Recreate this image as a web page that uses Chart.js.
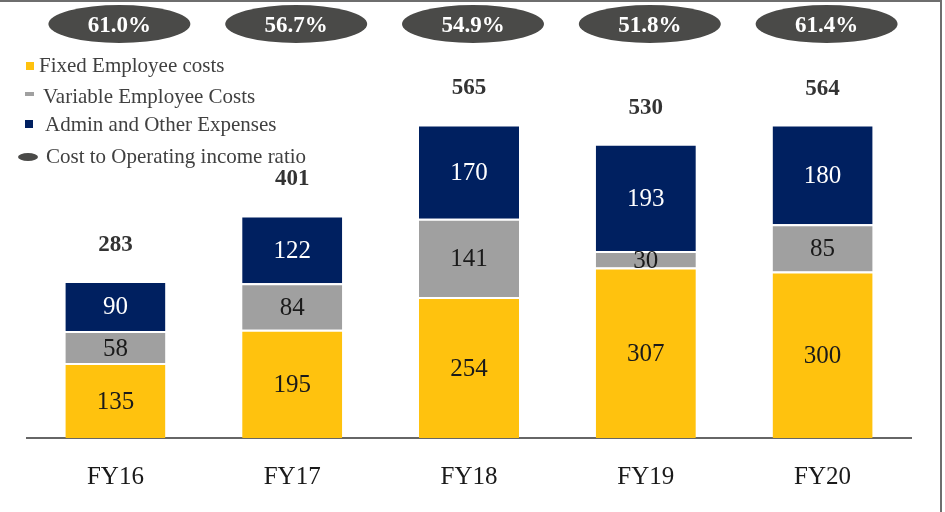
<!DOCTYPE html>
<html>
<head>
<meta charset="utf-8">
<script src="https://cdn.jsdelivr.net/npm/chart.js@4.4.1/dist/chart.umd.min.js"></script>
<style>
  body { margin: 0; background: #fff; }
  #wrap { width: 945px; height: 512px; position: relative; }
</style>
</head>
<body>
<div id="wrap"><canvas id="costChart" width="945" height="512"></canvas></div>
<script>
const years = ['FY16', 'FY17', 'FY18', 'FY19', 'FY20'];
const fixedCosts = [135, 195, 254, 307, 300];
const variableCosts = [58, 84, 141, 30, 85];
const adminCosts = [90, 122, 170, 193, 180];
const totals = [283, 401, 565, 530, 564];
const costRatio = ['61.0%', '56.7%', '54.9%', '51.8%', '61.4%'];

const serif = '"Liberation Serif", "DejaVu Serif", serif';

// valori dentro i segmenti + totali sopra le barre + ellissi del rapporto
const labelsPlugin = {
  id: 'labels',
  afterDatasetsDraw(chart) {
    const ctx = chart.ctx;
    const xs = chart.scales.x, ys = chart.scales.y;
    ctx.save();
    ctx.textAlign = 'center';
    ctx.textBaseline = 'middle';
    chart.data.datasets.forEach((ds, di) => {
      const meta = chart.getDatasetMeta(di);
      meta.data.forEach((bar, i) => {
        ctx.font = '25px ' + serif;
        ctx.fillStyle = di === 2 ? '#ffffff' : '#1a1a1a';
        ctx.fillText(ds.data[i], bar.x, (bar.y + bar.base) / 2 + 2);
      });
    });
    totals.forEach((t, i) => {
      ctx.font = 'bold 23px ' + serif;
      ctx.fillStyle = '#333333';
      ctx.fillText(t, xs.getPixelForValue(i), ys.getPixelForValue(t) - 36);
    });
    costRatio.forEach((r, i) => {
      const cx = xs.getPixelForValue(i) + 4;
      ctx.fillStyle = '#4a4a48';
      ctx.beginPath();
      ctx.ellipse(cx, 24, 71, 19, 0, 0, Math.PI * 2);
      ctx.fill();
      ctx.fillStyle = '#ffffff';
      ctx.font = 'bold 23px ' + serif;
      ctx.fillText(r, cx, 26);
    });
    ctx.restore();
  },
  afterDraw(chart) {
    const ctx = chart.ctx;
    ctx.save();
    // legenda
    ctx.textAlign = 'left';
    ctx.textBaseline = 'middle';
    ctx.font = '21px ' + serif;
    ctx.fillStyle = '#FFC20E';
    ctx.fillRect(26, 62, 8, 8);
    ctx.fillStyle = '#A0A0A0';
    ctx.fillRect(25, 92, 9, 4);
    ctx.fillStyle = '#002060';
    ctx.fillRect(25, 120, 8, 8);
    ctx.fillStyle = '#4a4a48';
    ctx.beginPath();
    ctx.ellipse(28, 157, 10, 4, 0, 0, Math.PI * 2);
    ctx.fill();
    ctx.fillStyle = '#404040';
    ctx.fillText(chart.data.datasets[0].label, 39, 66);
    ctx.fillText(chart.data.datasets[1].label, 43, 97);
    ctx.fillText(chart.data.datasets[2].label, 45, 125);
    ctx.fillText('Cost to Operating income ratio', 46, 157);
    // cornice
    ctx.strokeStyle = '#6e6e6e';
    ctx.lineWidth = 2;
    ctx.beginPath();
    ctx.moveTo(0, 1);
    ctx.lineTo(941, 1);
    ctx.lineTo(941, 512);
    ctx.stroke();
    ctx.restore();
  }
};

const seg = { top: 2, right: 0, bottom: 0, left: 0 };

new Chart(document.getElementById('costChart').getContext('2d'), {
  type: 'bar',
  data: {
    labels: years,
    datasets: [
      { label: 'Fixed Employee costs', data: fixedCosts, backgroundColor: '#FFC20E', borderColor: '#fff', borderWidth: seg, borderSkipped: false },
      { label: 'Variable Employee Costs', data: variableCosts, backgroundColor: '#A0A0A0', borderColor: '#fff', borderWidth: seg, borderSkipped: false },
      { label: 'Admin and Other Expenses', data: adminCosts, backgroundColor: '#002060', borderColor: '#fff', borderWidth: seg, borderSkipped: false }
    ]
  },
  options: {
    responsive: false,
    animation: false,
    layout: { padding: { left: 27, right: 34, top: 49.5, bottom: -4 } },
    datasets: { bar: { barPercentage: 0.566, categoryPercentage: 1 } },
    scales: {
      x: {
        stacked: true,
        grid: { display: false, drawTicks: false },
        border: { display: true, color: '#666666', width: 2 },
        ticks: { color: '#1a1a1a', font: { family: serif, size: 25 }, padding: 24 }
      },
      y: {
        stacked: true,
        display: false,
        min: 0,
        max: 700
      }
    },
    plugins: {
      legend: { display: false },
      tooltip: { enabled: false }
    }
  },
  plugins: [labelsPlugin]
});
</script>
</body>
</html>
